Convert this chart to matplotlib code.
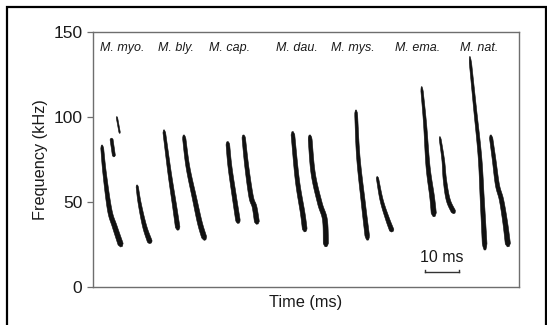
import numpy as np
import matplotlib
matplotlib.use("Agg")
import matplotlib.pyplot as plt
from matplotlib.patches import Rectangle, Polygon
from matplotlib.transforms import IdentityTransform

plt.rcParams["font.family"] = ["Liberation Sans", "DejaVu Sans"]

# Species labels and their time positions (ms)
species = ["M. myo.", "M. bly.", "M. cap.", "M. dau.", "M. mys.", "M. ema.", "M. nat."]
species_t = [8.8, 24.8, 40.6, 60.8, 77.3, 96.5, 114.7]
label_f = 140.8

# Echolocation call traces: time (ms) and frequency (kHz)
myo_1_t = [2.8, 3.6, 5.1, 6.6, 8.6]
myo_1_f = [83.5, 66.9, 45.3, 35.5, 23.7]
myo_frag_a_t = [5.6, 6.4]
myo_frag_a_f = [87.5, 76.6]
myo_frag_b_t = [7.2, 8.1]
myo_frag_b_f = [100.2, 90.4]
myo_2_t = [13.2, 14.0, 15.5, 17.2]
myo_2_f = [60.0, 49.2, 35.5, 25.7]

bly_1_t = [21.2, 22.9, 24.4, 25.4]
bly_1_f = [92.4, 66.9, 47.2, 33.5]
bly_2_t = [27.1, 28.3, 30.3, 31.9, 33.4]
bly_2_f = [89.4, 70.8, 52.0, 37.5, 27.6]

cap_1_t = [40.1, 40.8, 42.1, 43.3]
cap_1_f = [85.5, 70.8, 53.1, 37.5]
cap_2_t = [44.8, 45.8, 47.1, 48.1, 48.9]
cap_2_f = [89.4, 70.8, 53.0, 47.0, 37.0]

dau_1_t = [59.4, 60.8, 62.4, 63.1]
dau_1_f = [91.4, 63.0, 43.3, 32.5]
dau_2_t = [64.5, 65.5, 67.5, 69.0, 69.3]
dau_2_f = [89.4, 66.9, 49.2, 39.4, 23.7]

mys_1_t = [78.2, 78.9, 80.4, 81.7]
mys_1_f = [104.1, 76.6, 49.2, 27.6]
mys_2_t = [84.5, 85.8, 87.5, 89.0]
mys_2_f = [64.9, 51.2, 40.4, 32.5]

ema_1_t = [97.7, 98.7, 99.6, 100.8, 101.4]
ema_1_f = [117.8, 96.3, 70.8, 53.1, 41.4]
ema_2_t = [103.1, 104.1, 104.6, 105.6, 107.4]
ema_2_f = [88.4, 74.7, 63.0, 51.2, 43.3]

nat_1_t = [112.0, 113.5, 115.0, 115.7, 116.5]
nat_1_f = [135.5, 106.0, 76.6, 51.2, 21.8]
nat_2_t = [118.2, 119.2, 120.2, 121.4, 122.5, 123.4]
nat_2_f = [89.4, 75.0, 60.0, 51.2, 38.0, 23.7]

# (time, freq, stroke width at top in px, stroke width at bottom in px)
calls = [
    (myo_1_t, myo_1_f, 2.8, 5.4),
    (myo_frag_a_t, myo_frag_a_f, 3.0, 3.0),
    (myo_frag_b_t, myo_frag_b_f, 1.4, 1.4),
    (myo_2_t, myo_2_f, 2.2, 5.0),
    (bly_1_t, bly_1_f, 2.6, 4.6),
    (bly_2_t, bly_2_f, 3.2, 5.2),
    (cap_1_t, cap_1_f, 3.6, 4.6),
    (cap_2_t, cap_2_f, 3.4, 5.0),
    (dau_1_t, dau_1_f, 3.6, 4.8),
    (dau_2_t, dau_2_f, 3.8, 5.2),
    (mys_1_t, mys_1_f, 2.8, 4.6),
    (mys_2_t, mys_2_f, 2.2, 4.6),
    (ema_1_t, ema_1_f, 2.2, 5.2),
    (ema_2_t, ema_2_f, 1.8, 4.6),
    (nat_1_t, nat_1_f, 2.2, 4.8),
    (nat_2_t, nat_2_f, 3.2, 5.2),
]

yticks = [0, 50, 100, 150]
time_max = 126.6
scale_bar_t = [98.7, 108.7]
scale_bar_f = 9.0

text_color = "#1a1a1a"
spine_color = "#6e6e6e"
ink = "#111111"


def catmull_rom(p, n=16):
    """Smooth path through the control points p (display coords)."""
    if len(p) < 3:
        s = np.linspace(0, 1, n)[:, None]
        return p[0] + s * (p[1] - p[0])
    ext = np.vstack([2 * p[0] - p[1], p, 2 * p[-1] - p[-2]])
    out = []
    for i in range(1, len(ext) - 2):
        p0, p1, p2, p3 = ext[i - 1], ext[i], ext[i + 1], ext[i + 2]
        s = np.linspace(0, 1, n, endpoint=False)[:, None]
        out.append(0.5 * ((2 * p1) + (-p0 + p2) * s
                          + (2 * p0 - 5 * p1 + 4 * p2 - p3) * s ** 2
                          + (-p0 + 3 * p1 - 3 * p2 + p3) * s ** 3))
    out.append(p[-1][None, :])
    return np.vstack(out)


def stroke(ax, t, f, w_top, w_bot):
    pts = ax.transData.transform(np.column_stack([t, f]))
    path = catmull_rom(pts)
    d = np.gradient(path, axis=0)
    d /= np.linalg.norm(d, axis=1, keepdims=True)
    normal = np.column_stack([-d[:, 1], d[:, 0]])
    seg = np.r_[0, np.cumsum(np.linalg.norm(np.diff(path, axis=0), axis=1))]
    u = seg / seg[-1]
    w = w_top + (w_bot - w_top) * u
    # taper the very ends
    w = w * np.clip(np.minimum(u, 1 - u) * 25 + 0.35, 0, 1)
    left = path + normal * (w / 2)[:, None]
    right = path - normal * (w / 2)[:, None]
    poly = np.vstack([left, right[::-1]])
    ax.add_patch(Polygon(poly, closed=True, transform=IdentityTransform(),
                         facecolor=ink, edgecolor=ink, lw=0.4, clip_on=False))


fig = plt.figure(figsize=(5.47, 3.25), dpi=100)
fig.patch.set_facecolor("white")
ax = fig.add_axes([92.5 / 547, 38 / 325, 426.5 / 547, 255 / 325])
ax.set_xlim(0, time_max)
ax.set_ylim(0, 150)

for t, f, w_top, w_bot in calls:
    stroke(ax, t, f, w_top, w_bot)

for name, t in zip(species, species_t):
    ax.text(t, label_f, name, ha="center", va="center", fontsize=9,
            style="italic", color=text_color)

# 10 ms scale bar
ax.plot(scale_bar_t, [scale_bar_f, scale_bar_f], color="#333333", lw=1.0)
for tb in scale_bar_t:
    ax.plot([tb, tb], [scale_bar_f, scale_bar_f + 1.2], color="#333333", lw=1.0)
ax.text(np.mean(scale_bar_t), 17.5, "10 ms", ha="center", va="center",
        fontsize=11.5, color=text_color)

ax.set_xticks([])
ax.set_yticks(yticks)
ax.tick_params(axis="y", direction="out", length=4.3, width=0.9,
               color=spine_color, labelsize=12.5, labelcolor=text_color, pad=3)
for s in ax.spines.values():
    s.set_color(spine_color)
    s.set_linewidth(1.0)

ax.set_ylabel("Frequency (kHz)", fontsize=11.7, color=text_color, labelpad=4)
ax.set_xlabel("Time (ms)", fontsize=11.8, color=text_color, labelpad=6)

# Outer frame around the figure
fig.add_artist(Rectangle((7 / 547, -0.2), (545.5 - 7) / 547, 1.2 - 7 / 325,
                         transform=fig.transFigure, fill=False,
                         edgecolor="black", lw=1.6, clip_on=False))

fig.savefig("out.png", dpi=100)
